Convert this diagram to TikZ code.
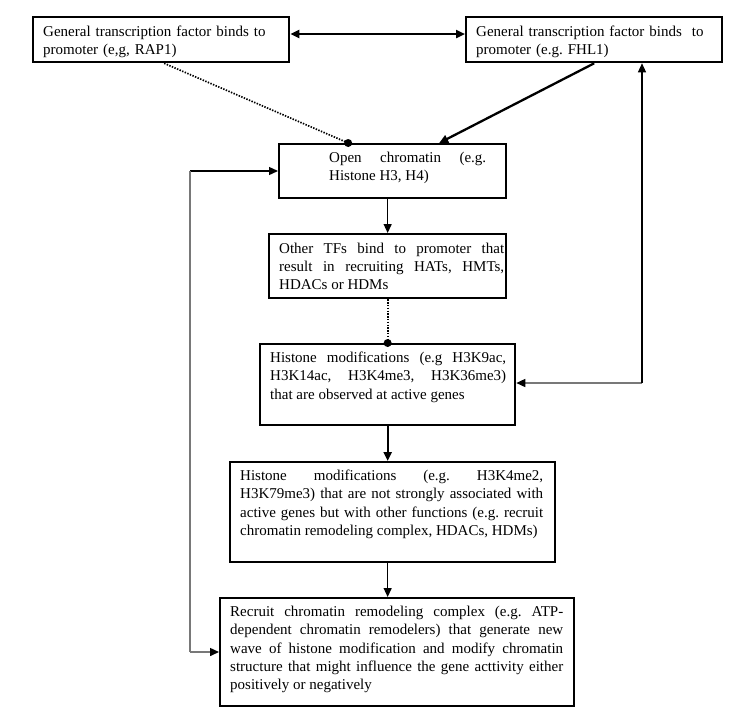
\documentclass[tikz,border=0pt]{standalone}
\usepackage{fontspec}
\setmainfont{Liberation Serif}
\usetikzlibrary{arrows.meta,calc}
\frenchspacing
\hyphenpenalty=10000
\exhyphenpenalty=10000
\tolerance=10000
\begin{document}
\begin{tikzpicture}[x=1pt,y=-1pt,
  box/.style={draw=black,line width=2.3pt,rectangle,inner sep=0pt,anchor=north west},
  txt/.style={inner sep=0pt,anchor=base west,font=\fontsize{15}{18.25}\selectfont},
  jtxt/.style={txt,align=justify},
  ltxt/.style={txt,align=left},
  tip/.style={-{Triangle[length=9pt,width=8pt,color=black]}},
  tips/.style={{Triangle[length=9pt,width=8pt,color=black]}-{Triangle[length=9pt,width=8pt,color=black]}},
  thinline/.style={line width=1.3pt,black},
  thickline/.style={line width=2.3pt,black},
  grayline/.style={line width=1.5pt,color={rgb,255:red,120;green,120;blue,120}},
  dotline/.style={line width=1.7pt,dash pattern=on 1.4pt off 1.4pt},
]
\useasboundingbox (0,0) rectangle (751,726);
\fill[white] (0,0) rectangle (751,726);

% boxes
\node[box,minimum width=256pt,minimum height=45pt] (A) at (32,16) {};
\node[box,minimum width=256pt,minimum height=45pt] (B) at (465,16) {};
\node[box,minimum width=227pt,minimum height=54pt] (C) at (278,143) {};
\node[box,minimum width=237pt,minimum height=64pt] (D) at (268,233) {};
\node[box,minimum width=255pt,minimum height=81pt] (E) at (259,343) {};
\node[box,minimum width=325pt,minimum height=100pt] (F) at (229,461) {};
\node[box,minimum width=354pt,minimum height=108pt] (G) at (219,597) {};

% texts
\node[ltxt,text width=240pt] (At) at (43,36) {General transcription factor binds to\\promoter (e,g, RAP1)};
\node[ltxt,text width=240pt] (Bt) at (476,36) {General transcription factor binds~ to\\promoter (e.g. FHL1)};
\node[jtxt,text width=157pt] (Ct) at (329,162.5) {Open chromatin (e.g.\linebreak Histone H3, H4)};
\node[jtxt,text width=225pt] (Dt) at (279,253) {Other TFs bind to promoter that\linebreak result in recruiting HATs, HMTs,\linebreak HDACs or HDMs};
\node[jtxt,text width=236pt] (Et) at (270,362.5) {Histone modifications (e.g H3K9ac,\linebreak H3K14ac, H3K4me3, H3K36me3)\linebreak that are observed at active genes};
\node[jtxt,text width=303pt] (Ft) at (240,480.7) {Histone modifications (e.g. H3K4me2,\linebreak H3K79me3) that are not strongly associated with\linebreak active genes but with other functions (e.g. recruit\linebreak chromatin remodeling complex, HDACs, HDMs)};
\node[jtxt,text width=333pt] (Gt) at (230,616.7) {Recruit chromatin remodeling complex (e.g. ATP-\linebreak dependent chromatin remodelers) that generate new\linebreak wave of histone modification and modify chromatin\linebreak structure that might influence the gene acttivity either\linebreak positively or negatively};

% coordinates
\coordinate (R) at (642,383);
\coordinate (L1) at (190,171);
\coordinate (L2) at (190,652);
\coordinate (Adot) at ([xshift=3pt]A.south);
\coordinate (Cdot) at ([xshift=-44.5pt]C.north);
\coordinate (Carr) at ([xshift=46.5pt]C.north);

% connectors
\draw[thickline,tips] (A.east |- 0,34) -- (B.west |- 0,34);
\draw[black,dotline] (Adot) -- (Cdot);
\fill[black] (Cdot) circle (4pt);
\draw[thickline,tip] (B.south) -- (Carr);
\draw[thinline,tip] (C.south -| D.north) -- (D.north);
\draw[black,dotline] (D.south) -- (E.north);
\fill[black] (E.north) circle (4pt);
\draw[thickline,tip] (E.south) -- (E.south |- F.north);
\draw[thinline,tip] (F.south -| E.south) -- (G.north -| E.south);

% right loop
\draw[grayline,tip] (R) -- (E.east |- R);
\draw[thinline,tip] (R) -- (R |- B.south);

% left loop
\draw[thinline,tip] (L1) -- (C.west |- L1);
\draw[grayline] (L1) -- (L2);
\draw[grayline,tip] (L2) -- (G.west |- L2);
\end{tikzpicture}
\end{document}
